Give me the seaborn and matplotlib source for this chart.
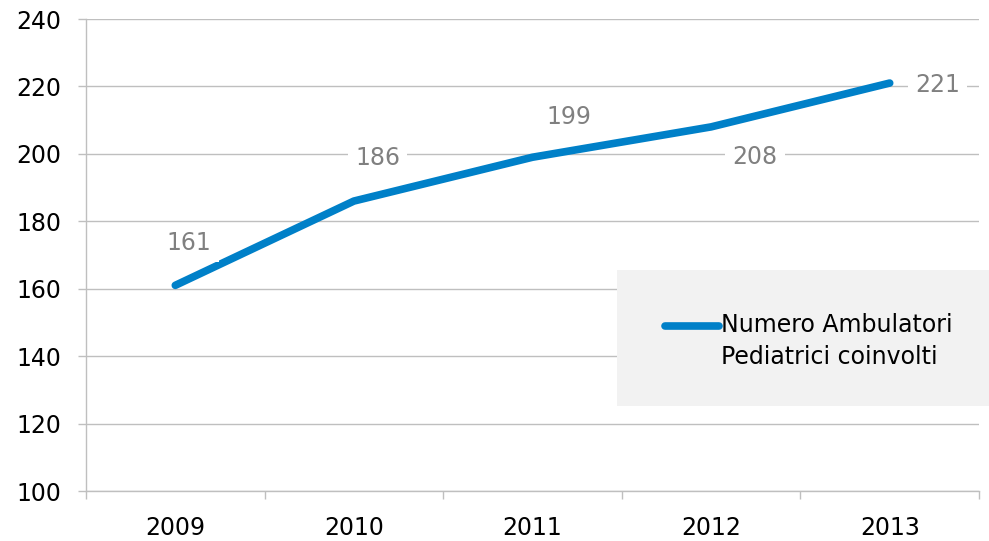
import matplotlib
matplotlib.use("Agg")
import matplotlib.pyplot as plt
import seaborn as sns
import pandas as pd
from matplotlib.patches import Rectangle
from matplotlib.legend_handler import HandlerLine2D

# dati
anni = ["2009", "2010", "2011", "2012", "2013"]
ambulatori = [161, 186, 199, 208, 221]
serie = "Numero Ambulatori\nPediatrici coinvolti"

# posizione etichette (pixel) rispetto al punto
label_offsets = [(14, 42), (24, 43), (36, 40), (44, -30), (48, -2)]

LINE_COLOR = "#0080C8"
GRID_COLOR = "#BFBFBF"
FS = 17


class HandlerFirstLine(HandlerLine2D):
    # sposta il simbolo della legenda all'altezza della prima riga
    def __init__(self, shift, **kw):
        super().__init__(**kw)
        self.shift = shift

    def create_artists(self, legend, orig_handle, xdescent, ydescent,
                       width, height, fontsize, trans):
        arts = super().create_artists(legend, orig_handle, xdescent, ydescent,
                                      width, height, fontsize, trans)
        for a in arts:
            a.set_ydata([y + self.shift for y in a.get_ydata()])
        return arts


def main():
    sns.set_theme(style="white")
    plt.rcParams["font.family"] = ["DejaVu Sans"]

    df = pd.DataFrame({"anno": anni, "valore": ambulatori})

    fig = plt.figure(figsize=(9.89, 5.41), dpi=100)
    ax = fig.add_axes([86 / 989, 1 - 491 / 541, 893 / 989, 472 / 541])

    sns.lineplot(data=df, x="anno", y="valore", ax=ax, color=LINE_COLOR,
                 linewidth=5.5, solid_capstyle="round", label=serie,
                 legend=False, zorder=3)

    ax.set_xlim(-0.5, len(anni) - 0.5)
    ax.set_ylim(100, 240)
    ax.set_yticks(range(100, 241, 20))
    ax.set_xticks(range(len(anni)))
    ax.set_xticklabels(anni)
    ax.set_xticks([i - 0.5 for i in range(len(anni) + 1)], minor=True)
    ax.set_xlabel("")
    ax.set_ylabel("")

    ax.yaxis.grid(True, color=GRID_COLOR, linewidth=1)
    ax.set_axisbelow(True)
    for s in ["top", "right"]:
        ax.spines[s].set_visible(False)
    for s in ["left", "bottom"]:
        ax.spines[s].set_color(GRID_COLOR)
        ax.spines[s].set_linewidth(1)

    ax.tick_params(axis="y", which="major", left=True, length=6, width=1,
                   color=GRID_COLOR, labelsize=FS, pad=12, labelcolor="black")
    ax.tick_params(axis="x", which="major", bottom=False, length=0,
                   labelsize=FS, pad=18, labelcolor="black")
    ax.tick_params(axis="x", which="minor", bottom=True, length=6, width=1,
                   color=GRID_COLOR, direction="out")

    # etichette dati
    for i, (v, off) in enumerate(zip(ambulatori, label_offsets)):
        ax.annotate(str(v), xy=(i, v), xytext=off, textcoords="offset pixels",
                    ha="center", va="center", fontsize=FS, color="#808080",
                    bbox=dict(boxstyle="square,pad=0.3", fc="white", ec="none"),
                    zorder=4)

    # riquadro legenda
    fig.patches.append(Rectangle((617 / 989, 1 - 406 / 541), 372 / 989, 136 / 541,
                                 transform=fig.transFigure, facecolor="#F2F2F2",
                                 edgecolor="none", zorder=5))
    handles, labels = ax.get_legend_handles_labels()
    leg = fig.legend(handles, labels, loc="center left",
                     bbox_to_anchor=(653 / 989, 1 - 341 / 541),
                     frameon=False, fontsize=FS, handlelength=2.3,
                     handletextpad=0.1, borderpad=0,
                     handler_map={handles[0]: HandlerFirstLine(shift=12)})
    leg.set_zorder(6)
    for t in leg.get_texts():
        t.set_color("black")
        t.set_linespacing(1.4)

    fig.savefig("out.png", dpi=100)
    plt.close(fig)

if __name__ == "__main__":
    main()
